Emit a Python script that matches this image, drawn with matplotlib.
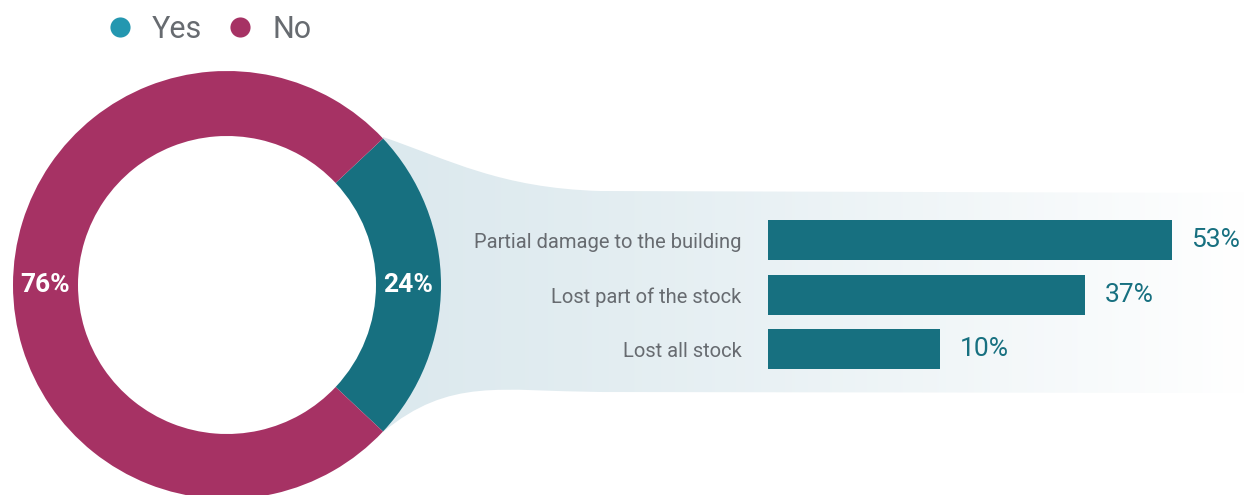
import numpy as np
import matplotlib
matplotlib.use('Agg')
import matplotlib.pyplot as plt
from matplotlib.path import Path
from matplotlib.patches import PathPatch
from matplotlib.lines import Line2D

plt.rcParams['font.family'] = ['Roboto', 'DejaVu Sans']

# donut: did the business suffer damage?
answers = ['Yes', 'No']
answer_share = [24, 76]

# bar breakdown for the "Yes" group
damage_types = ['Partial damage to the building', 'Lost part of the stock', 'Lost all stock']
damage_share = [53, 37, 10]

TEAL = '#177080'
LEGEND_TEAL = '#2497b0'
PLUM = '#a63264'
GREY = '#676b70'
BAR_BASE = 22  # bars start a bit left of zero so short ones stay visible

W, H = 1245, 495
fig = plt.figure(figsize=(W / 100, H / 100), dpi=100)
fig.patch.set_facecolor('white')

# background axes in pixel units (y up)
ax = fig.add_axes([0, 0, 1, 1])
cx, cy = 227, 210
r_out, ring = 214, 65

wedges, _, pct = ax.pie(
    answer_share, colors=[TEAL, PLUM], center=(cx, cy), radius=r_out,
    startangle=-answer_share[0] * 3.6 / 2, counterclock=True,
    autopct=lambda p: f'{p:.0f}%', pctdistance=(r_out - ring / 2) / r_out,
    wedgeprops=dict(width=ring, linewidth=0),
    textprops=dict(color='white', fontsize=19, fontweight='bold'),
)
for w in wedges:
    w.set_zorder(5)
for t in pct:
    t.set_zorder(6)

ax.set_xlim(0, W)
ax.set_ylim(0, H)
ax.axis('off')

# funnel from the "Yes" wedge towards the bar panel
verts = [
    (383, 358), (450, 335), (500, 307), (600, 304),
    (W, 302), (W, 102),
    (600, 103), (500, 104), (450, 118), (383, 63),
    (383, 358),
]
codes = [Path.MOVETO, Path.CURVE4, Path.CURVE4, Path.CURVE4,
         Path.LINETO, Path.LINETO,
         Path.LINETO, Path.CURVE4, Path.CURVE4, Path.CURVE4,
         Path.CLOSEPOLY]
funnel = PathPatch(Path(verts, codes), facecolor='none', edgecolor='none')
ax.add_patch(funnel)

left_c = np.array([220, 233, 238]) / 255
t = np.linspace(0, 1, 400)[None, :, None]
grad = left_c + (1 - left_c) * t ** 1.2
img = ax.imshow(grad, extent=(383, W, 0, H), aspect='auto', zorder=1,
                interpolation='bilinear')
img.set_clip_path(funnel)
ax.set_xlim(0, W)
ax.set_ylim(0, H)

# legend
handles = [Line2D([], [], marker='o', linestyle='none', markersize=14.5,
                  markerfacecolor=c, markeredgecolor='none')
           for c in [LEGEND_TEAL, PLUM]]
leg = fig.legend(handles, answers, loc='upper left', bbox_to_anchor=(0.062, 1.0255),
                 ncol=2, frameon=False, fontsize=22, handletextpad=0.55,
                 columnspacing=0.75, handlelength=1.0)
for txt in leg.get_texts():
    txt.set_color(GREY)

# bar panel
bx = fig.add_axes([768 / W, (H - 376.5) / H, 430.4 / W, 163.5 / H])
bx.patch.set_alpha(0)
y = np.arange(len(damage_share))
bars = bx.barh(y, np.array(damage_share) + BAR_BASE, left=-BAR_BASE,
               height=0.73, color=TEAL, zorder=3)
bx.bar_label(bars, labels=[f'{v}%' for v in damage_share], padding=14,
             color=TEAL, fontsize=19)
bx.set_xlim(-BAR_BASE, 58)
bx.set_ylim(2.5, -0.5)
bx.set_yticks(y, damage_types, fontsize=14.5, color=GREY)
bx.set_xticks([])
bx.tick_params(axis='y', length=0, pad=19)
for s in bx.spines.values():
    s.set_visible(False)

fig.savefig('out.png', dpi=100, facecolor='white')
